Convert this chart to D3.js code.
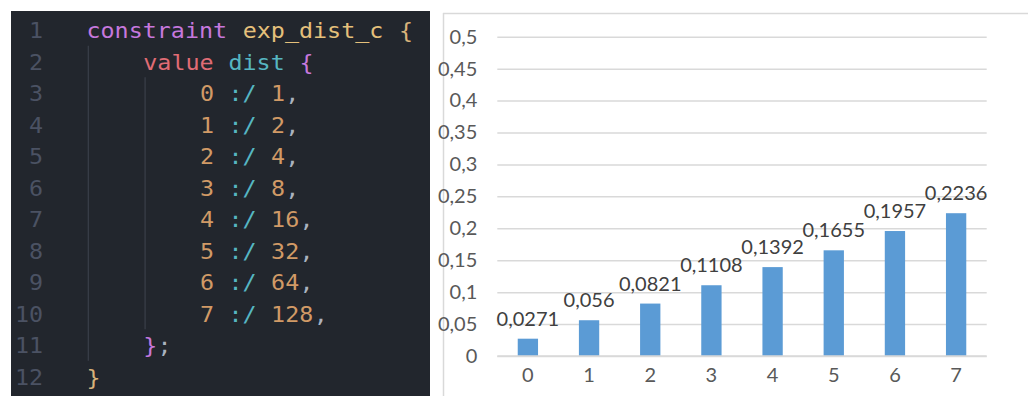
<!DOCTYPE html>
<html>
<head>
<meta charset="utf-8">
<script src="https://cdn.jsdelivr.net/npm/d3@7"></script>
<style>
  html, body { margin: 0; padding: 0; background: #ffffff; }
  svg { display: block; }
</style>
</head>
<body>
<svg id="root" width="1028" height="396"></svg>
<script>
// ---- Code listing (token rows: [column, text, colour]) ----
const codeLines = [
  [[0, "constraint", "#c678dd"], [11, "exp_dist_c", "#e5c07b"], [22, "{", "#d8b27a"]],
  [[4, "value", "#e06c75"], [10, "dist", "#56b6c2"], [15, "{", "#c678dd"]],
  [[8, "0", "#d19a66"], [10, ":/", "#56b6c2"], [13, "1", "#d19a66"], [14, ",", "#abb2bf"]],
  [[8, "1", "#d19a66"], [10, ":/", "#56b6c2"], [13, "2", "#d19a66"], [14, ",", "#abb2bf"]],
  [[8, "2", "#d19a66"], [10, ":/", "#56b6c2"], [13, "4", "#d19a66"], [14, ",", "#abb2bf"]],
  [[8, "3", "#d19a66"], [10, ":/", "#56b6c2"], [13, "8", "#d19a66"], [14, ",", "#abb2bf"]],
  [[8, "4", "#d19a66"], [10, ":/", "#56b6c2"], [13, "16", "#d19a66"], [15, ",", "#abb2bf"]],
  [[8, "5", "#d19a66"], [10, ":/", "#56b6c2"], [13, "32", "#d19a66"], [15, ",", "#abb2bf"]],
  [[8, "6", "#d19a66"], [10, ":/", "#56b6c2"], [13, "64", "#d19a66"], [15, ",", "#abb2bf"]],
  [[8, "7", "#d19a66"], [10, ":/", "#56b6c2"], [13, "128", "#d19a66"], [16, ",", "#abb2bf"]],
  [[4, "}", "#c678dd"], [5, ";", "#abb2bf"]],
  [[0, "}", "#d8b27a"]]
];
// indent guides: [column, first line, last line] (1-based lines)
const indentGuides = [[0, 2, 11], [4, 3, 10]];

// ---- Bar chart data ----
const categories = ["0", "1", "2", "3", "4", "5", "6", "7"];
const values = [0.0271, 0.056, 0.0821, 0.1108, 0.1392, 0.1655, 0.1957, 0.2236];
const yTicks = [0, 0.05, 0.1, 0.15, 0.2, 0.25, 0.3, 0.35, 0.4, 0.45, 0.5];

const svg = d3.select("#root");
svg.append("rect").attr("width", 1028).attr("height", 396).attr("fill", "#ffffff");

// ================= Editor panel =================
const editor = svg.append("g");
editor.append("rect")
  .attr("x", 11).attr("y", 11).attr("width", 419).attr("height", 385)
  .attr("fill", "#22262d");

const colX = d3.scaleLinear().domain([0, 1]).range([86.5, 86.5 + 14.2]);
const lineY = d3.scaleLinear().domain([1, 2]).range([38.3, 38.3 + 31.5]);
const stretch = 1.14;
const monoFont = "'DejaVu Sans Mono', monospace";

// indent guides
editor.selectAll("line.guide")
  .data(indentGuides)
  .join("line")
  .attr("class", "guide")
  .attr("x1", d => colX(d[0]) + 1.8).attr("x2", d => colX(d[0]) + 1.8)
  .attr("y1", d => lineY(d[1]) - 24)
  .attr("y2", d => lineY(d[2]) + 7.5)
  .attr("stroke", "#3a3f4a").attr("stroke-width", 1.2);

// line numbers
editor.selectAll("text.lnum")
  .data(codeLines)
  .join("text")
  .attr("class", "lnum")
  .attr("transform", (d, i) => `translate(43,${lineY(i + 1)}) scale(${stretch},1)`)
  .attr("text-anchor", "end")
  .attr("font-family", monoFont)
  .attr("font-size", 20.5)
  .attr("fill", "#4b5263")
  .text((d, i) => i + 1);

// code tokens
codeLines.forEach((tokens, i) => {
  editor.selectAll(null)
    .data(tokens)
    .join("text")
    .attr("transform", d => `translate(${colX(d[0])},${lineY(i + 1)}) scale(${stretch},1)`)
    .attr("font-family", monoFont)
    .attr("font-size", 20.5)
    .attr("fill", d => d[2])
    .text(d => d[1]);
});

// ================= Bar chart =================
const chart = svg.append("g");
const gridColor = "#d9d9d9";
const fmt = v => String(+v.toFixed(4)).replace(".", ",");

// chart area border
chart.append("line")
  .attr("x1", 443.5).attr("x2", 443.5).attr("y1", 13).attr("y2", 396)
  .attr("stroke", gridColor).attr("stroke-width", 1.5);
chart.append("line")
  .attr("x1", 443).attr("x2", 1028).attr("y1", 13.5).attr("y2", 13.5)
  .attr("stroke", gridColor).attr("stroke-width", 1.5);

const x = d3.scaleBand()
  .domain(categories)
  .range([497.3, 986.7])
  .paddingInner(0.668)
  .paddingOuter(0.334);
const y = d3.scaleLinear().domain([0, 0.5]).range([356, 36.7]);

// gridlines + tick labels via d3 axis
const yAxis = d3.axisLeft(y)
  .tickValues(yTicks)
  .tickSize(-(986.7 - 497.3))
  .tickPadding(20)
  .tickFormat(fmt);

const yg = chart.append("g")
  .attr("transform", "translate(497.3,0)")
  .call(yAxis);
yg.select(".domain").remove();
yg.selectAll(".tick line").attr("stroke", gridColor).attr("stroke-width", 1.5);
yg.selectAll(".tick text")
  .attr("font-family", "Lato, 'Open Sans', sans-serif")
  .attr("font-size", 20)
  .attr("fill", "#595959");

// bars
chart.selectAll("rect.bar")
  .data(values)
  .join("rect")
  .attr("class", "bar")
  .attr("x", (d, i) => x(categories[i]))
  .attr("width", x.bandwidth())
  .attr("y", d => y(d))
  .attr("height", d => y(0) - y(d))
  .attr("fill", "#5b9bd5");

// baseline
chart.append("line")
  .attr("x1", 497.3).attr("x2", 986.7).attr("y1", y(0)).attr("y2", y(0))
  .attr("stroke", gridColor).attr("stroke-width", 1.5);

// x axis labels
const xAxis = d3.axisBottom(x).tickSize(0).tickPadding(12);
const xg = chart.append("g")
  .attr("transform", `translate(0,${y(0)})`)
  .call(xAxis);
xg.select(".domain").remove();
xg.selectAll(".tick text")
  .attr("font-family", "Lato, 'Open Sans', sans-serif")
  .attr("font-size", 20)
  .attr("fill", "#595959");

// value labels
chart.selectAll("text.val")
  .data(values)
  .join("text")
  .attr("class", "val")
  .attr("x", (d, i) => x(categories[i]) + x.bandwidth() / 2)
  .attr("y", d => y(d) - 13)
  .attr("text-anchor", "middle")
  .attr("font-family", "Lato, 'Open Sans', sans-serif")
  .attr("font-size", 20)
  .attr("fill", "#404040")
  .text(d => fmt(d));
</script>
</body>
</html>
